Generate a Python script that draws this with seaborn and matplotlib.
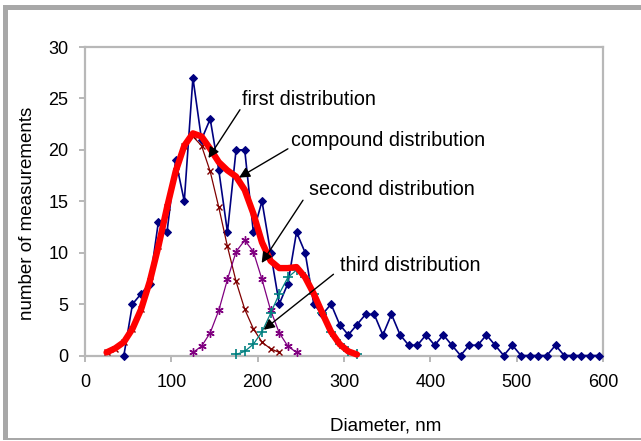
import numpy as np
import pandas as pd
import seaborn as sns
import matplotlib
matplotlib.use("Agg")
import matplotlib.pyplot as plt
from matplotlib.patches import Rectangle

# ---------------- data ----------------
meas_x = [45, 55, 65, 75, 85, 95, 105, 115, 125, 135, 145, 155, 165, 175, 185, 195,
          205, 215, 225, 235, 245, 255, 265, 275, 285, 295, 305, 315, 325, 335, 345,
          355, 365, 375, 385, 395, 405, 415, 425, 435, 445, 455, 465, 475, 485, 495,
          505, 515, 525, 535, 545, 555, 565, 575, 585, 595]
meas_y = [0, 5, 6, 7, 13, 12, 19, 15, 27, 21, 23, 18, 12, 20, 20, 12,
          15, 10, 5, 7, 12, 10, 5, 4, 5, 3, 2, 3, 4, 4, 2,
          4, 2, 1, 1, 2, 1, 2, 1, 0, 1, 1, 2, 1, 0, 1,
          0, 0, 0, 0, 1, 0, 0, 0, 0, 0]

first_x = [25, 35, 45, 55, 65, 75, 85, 95, 105, 115, 125, 135, 145, 155, 165, 175,
           185, 195, 205, 215, 225]
first_y = [0.3, 0.65, 1.3, 2.6, 4.5, 7.2, 10.6, 14.4, 17.9, 20.4, 21.3, 20.4, 17.9,
           14.4, 10.6, 7.2, 4.5, 2.6, 1.3, 0.65, 0.3]

second_x = [125, 135, 145, 155, 165, 175, 185, 195, 205, 215, 225, 235, 245]
second_y = [0.3, 0.9, 2.2, 4.4, 7.4, 10.1, 11.2, 10.1, 7.4, 4.4, 2.2, 0.9, 0.3]

third_x = [175, 185, 195, 205, 215, 225, 235, 245, 255, 265, 275, 285, 295, 305, 315]
third_y = [0.1, 0.4, 1.1, 2.3, 4.1, 6.0, 7.6, 8.3, 7.6, 6.0, 4.1, 2.3, 1.1, 0.4, 0.1]

comp_x = [25, 35, 45, 55, 65, 75, 85, 95, 105, 115, 125, 135, 145, 155, 165, 175,
          185, 195, 205, 215, 225, 235, 245, 255, 265, 275, 285, 295, 305, 315]
comp_y = [0.3, 0.7, 1.3, 2.6, 4.5, 7.2, 10.6, 14.4, 17.9, 20.4, 21.6, 21.3, 20.1,
          18.8, 18.0, 17.4, 16.1, 13.8, 11.0, 9.2, 8.5, 8.5, 8.6, 7.6, 6.0, 4.1,
          2.3, 1.1, 0.4, 0.1]

x_ticks = [0, 100, 200, 300, 400, 500, 600]
y_ticks = [0, 5, 10, 15, 20, 25, 30]

labels = ["first distribution", "compound distribution",
          "second distribution", "third distribution"]

# ---------------- style ----------------
sns.set_theme(style="white")
plt.rcParams['font.family'] = ['Liberation Sans', 'DejaVu Sans']

fig = plt.figure(figsize=(6.41, 4.41), dpi=100)
fig.patch.set_facecolor("white")
ax = fig.add_axes([85 / 641, 1 - 355.5 / 441, 518 / 641, 308.5 / 441])

df_meas = pd.DataFrame({"x": meas_x, "y": meas_y})
df_first = pd.DataFrame({"x": first_x, "y": first_y})
df_second = pd.DataFrame({"x": second_x, "y": second_y})
df_third = pd.DataFrame({"x": third_x, "y": third_y})
df_comp = pd.DataFrame({"x": comp_x, "y": comp_y})

sns.lineplot(data=df_meas, x="x", y="y", ax=ax, color="#000080", lw=1.2,
             marker="D", markersize=4.4, markeredgecolor="#000080",
             markerfacecolor="#000080", sort=False, zorder=3, clip_on=False)
sns.lineplot(data=df_first, x="x", y="y", ax=ax, color="#800000", lw=0.9,
             marker="x", markersize=4, markeredgewidth=1.0, markeredgecolor="#800000",
             sort=False, zorder=4, clip_on=False)
sns.lineplot(data=df_second, x="x", y="y", ax=ax, color="#800080", lw=0.9,
             marker=(6, 2, 0), markersize=6, markeredgewidth=1.0,
             markeredgecolor="#800080", sort=False, zorder=4, clip_on=False)
sns.lineplot(data=df_third, x="x", y="y", ax=ax, color="#008080", lw=0.9,
             marker="+", markersize=7, markeredgewidth=1.2, markeredgecolor="#008080",
             sort=False, zorder=4, clip_on=False)
sns.lineplot(data=df_comp, x="x", y="y", ax=ax, color="#ff0000", lw=4.6,
             sort=False, zorder=5, clip_on=False, solid_capstyle="round",
             solid_joinstyle="round")

ax.set_xlim(0, 600)
ax.set_ylim(0, 30)
ax.set_xticks(x_ticks)
ax.set_yticks(y_ticks)
ax.set_xticklabels([str(v) for v in x_ticks])
ax.set_yticklabels([str(v) for v in y_ticks])

spine_col = "#b8b8b8"
for s in ax.spines.values():
    s.set_visible(True)
    s.set_color(spine_col)
    s.set_linewidth(1.6)
ax.tick_params(axis="both", which="both", direction="out", length=4, width=1.4,
               color=spine_col, labelsize=13, labelcolor="black",
               bottom=True, left=True, top=False, right=False)
ax.tick_params(axis="x", pad=9)
ax.tick_params(axis="y", pad=8)
ax.grid(False)

ax.set_xlabel("Diameter, nm", fontsize=13.5, color="black")
ax.set_ylabel("number of measurements", fontsize=13.5, color="black")
ax.xaxis.set_label_coords(0.581, -0.2)
ax.yaxis.set_label_coords(-0.094, 0.46)

# annotations (text position, arrow tail, arrow head) in data coords
text_pos = [(181.5, 24.9), (239.0, 20.9), (259.0, 16.1), (295.5, 8.8)]
tails = [(179.5, 23.9), (235.0, 20.1), (252.5, 15.1), (287.8, 7.9)]
heads = [(143.0, 19.2), (178.4, 17.3), (204.6, 9.0), (207.0, 2.5)]
for lab, tp, tl, hd in zip(labels, text_pos, tails, heads):
    ax.text(tp[0], tp[1], lab, fontsize=14.2, ha="left", va="center",
            color="black", zorder=7)
    ax.annotate("", xy=hd, xytext=tl,
                arrowprops=dict(arrowstyle="-|>", color="black", lw=1.0,
                                mutation_scale=16, shrinkA=0, shrinkB=0),
                zorder=8)

# outer frame (pixel coords)
frame_col = "#a8a8a8"
fig.add_artist(Rectangle((3, 441 - 10), 641, 5, transform=None,
                         facecolor=frame_col, edgecolor="none"))
fig.add_artist(Rectangle((3, 441 - 439.5), 5, 434.5, transform=None,
                         facecolor=frame_col, edgecolor="none"))
fig.add_artist(Rectangle((3, 441 - 439.5), 641, 2, transform=None,
                         facecolor=frame_col, edgecolor="none"))

fig.savefig("out.png", dpi=100, facecolor="white")
